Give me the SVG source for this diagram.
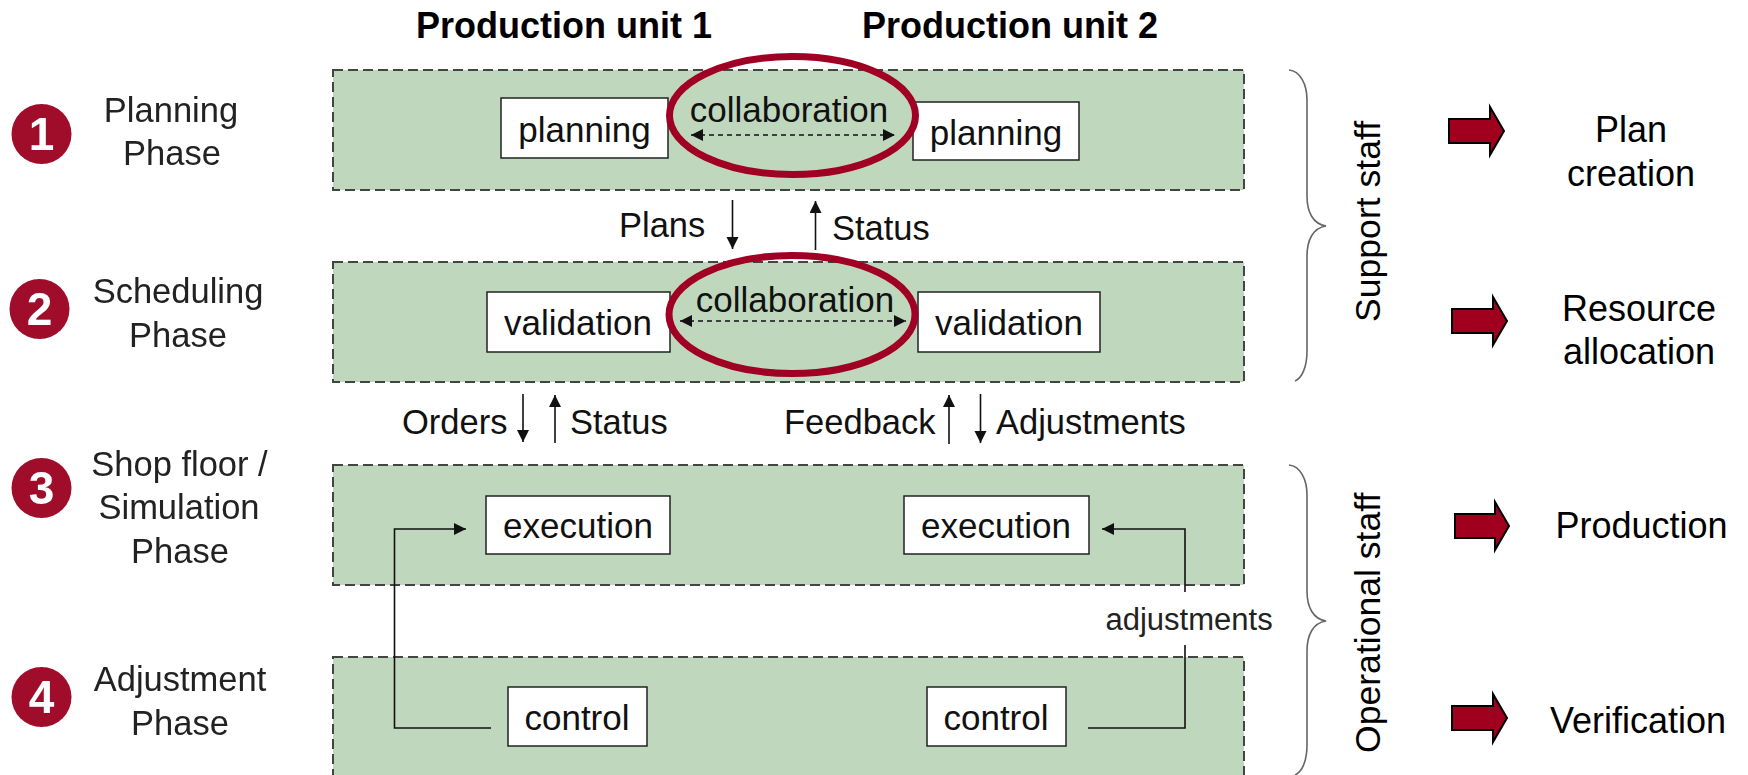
<svg xmlns="http://www.w3.org/2000/svg" width="1748" height="775" viewBox="0 0 1748 775">
<style>
text{font-family:"Liberation Sans",Arial,sans-serif;fill:#111}
.panel{fill:#bfd8bd;stroke:#444;stroke-width:2;stroke-dasharray:10 5}
.box{fill:#fff;stroke:#222;stroke-width:1.5}
.t{font-size:35px;text-anchor:middle}
.s{font-size:34.5px}
.h{font-size:36px;font-weight:bold;fill:#000}
.ph{font-size:34.5px;text-anchor:middle;fill:#222;filter:url(#soft)}
.num{font-size:46px;font-weight:bold;text-anchor:middle;fill:#fff;filter:url(#soft)}
.badge{fill:#a00a2c;filter:url(#soft)}
.oval{fill:none;stroke:#a00024;stroke-width:7}
.ln{fill:none;stroke:#111;stroke-width:1.6}
.end{marker-end:url(#tri)}
.dash{stroke-dasharray:5 4;marker-start:url(#triS);marker-end:url(#tri)}
.brace{fill:none;stroke:#666;stroke-width:1.6}
.big{fill:#a0001e;stroke:#000;stroke-width:2}
.r{font-size:36px;text-anchor:middle;fill:#000}
</style>
<defs>
<filter id="soft" x="-10%" y="-10%" width="120%" height="120%"><feGaussianBlur stdDeviation="0.6"/></filter>
<marker id="tri" markerUnits="userSpaceOnUse" markerWidth="14" markerHeight="14" refX="12" refY="6" orient="auto"><path d="M0 0L12 6L0 12Z" fill="#111"/></marker>
<marker id="triS" markerUnits="userSpaceOnUse" markerWidth="14" markerHeight="14" refX="0" refY="6" orient="auto"><path d="M12 0L0 6L12 12Z" fill="#111"/></marker>
</defs>

<g id="headers">
<text class="h" x="416" y="38">Production unit 1</text>
<text class="h" x="862" y="38">Production unit 2</text>
</g>

<g id="phase-1"><circle class="badge" cx="41.5" cy="134" r="30"/><text class="num" x="41.5" y="150">1</text>
<text class="ph" x="171" y="122">Planning</text><text class="ph" x="172" y="165">Phase</text></g>
<g id="phase-2"><circle class="badge" cx="39.5" cy="309" r="30"/><text class="num" x="39.5" y="325">2</text>
<text class="ph" x="178" y="303">Scheduling</text><text class="ph" x="178" y="347">Phase</text></g>
<g id="phase-3"><circle class="badge" cx="41.5" cy="488" r="30"/><text class="num" x="41.5" y="504">3</text>
<text class="ph" x="179.5" y="476">Shop floor /</text><text class="ph" x="179" y="519">Simulation</text><text class="ph" x="180" y="563">Phase</text></g>
<g id="phase-4"><circle class="badge" cx="41.5" cy="697" r="30"/><text class="num" x="41.5" y="713">4</text>
<text class="ph" x="180" y="691">Adjustment</text><text class="ph" x="180" y="735">Phase</text></g>

<g id="panel-planning"><rect class="panel" x="333" y="70" width="911" height="120"/></g>
<g id="panel-scheduling"><rect class="panel" x="333" y="262" width="911" height="120"/></g>
<g id="panel-execution"><rect class="panel" x="333" y="465" width="911" height="120"/></g>
<g id="panel-adjustment"><rect class="panel" x="333" y="657" width="911" height="140"/></g>

<g id="planning-1"><rect class="box" x="501" y="98" width="167" height="60"/><text class="t" x="584.5" y="142">planning</text></g>
<g id="planning-2"><rect class="box" x="913" y="102" width="166" height="58"/><text class="t" x="996" y="145">planning</text></g>
<g id="validation-1"><rect class="box" x="487" y="292" width="183" height="60"/><text class="t" x="578" y="335">validation</text></g>
<g id="validation-2"><rect class="box" x="918" y="292" width="182" height="60"/><text class="t" x="1009" y="335">validation</text></g>
<g id="execution-1"><rect class="box" x="486" y="496" width="184" height="58"/><text class="t" x="578" y="538">execution</text></g>
<g id="execution-2"><rect class="box" x="904" y="496" width="185" height="58"/><text class="t" x="996" y="538">execution</text></g>
<g id="control-1"><rect class="box" x="508" y="687" width="139" height="59"/><text class="t" x="577" y="730">control</text></g>
<g id="control-2"><rect class="box" x="927" y="687" width="139" height="59"/><text class="t" x="996" y="730">control</text></g>

<g id="collaboration-1"><ellipse class="oval" cx="792.5" cy="115.5" rx="123" ry="59"/><text class="t" x="789" y="122">collaboration</text></g>
<g id="collaboration-2"><ellipse class="oval" cx="792" cy="314.5" rx="123" ry="59"/><text class="t" x="795" y="312">collaboration</text></g>

<g id="connectors">
<path class="ln dash" d="M691 135H895"/>
<path class="ln dash" d="M680 321H906"/>
<path class="ln end" d="M732.5 200V249"/>
<path class="ln end" d="M815.5 250V201"/>
<path class="ln end" d="M523 394V442"/>
<path class="ln end" d="M555 443V395"/>
<path class="ln end" d="M949 444V395"/>
<path class="ln end" d="M980.5 394V443"/>
<path class="ln end" d="M491 728H394.5V529H466"/>
<path class="ln end" d="M1185 592V529H1102"/>
<path class="ln" d="M1088 728H1185V645"/>
</g>

<g id="flow-labels">
<text class="s" x="619" y="237">Plans</text>
<text class="s" x="832" y="240">Status</text>
<text class="s" x="402" y="434">Orders</text>
<text class="s" x="570" y="434">Status</text>
<text class="s" x="784" y="434">Feedback</text>
<text class="s" x="996" y="434">Adjustments</text>
<text x="1105.5" y="630" style="font-size:31px;fill:#222">adjustments</text>
</g>

<g id="support-staff">
<path class="brace" d="M1289 70C1300 71 1307 84 1307 100V196C1307 212 1313 224 1326 226C1313 228 1307 240 1307 256V351C1307 367 1302 378 1295 381"/>
<text x="0" y="0" transform="translate(1380 322) rotate(-90)" style="font-size:35.6px;fill:#000">Support staff</text>
</g>
<g id="operational-staff">
<path class="brace" d="M1289 465C1300 466 1307 479 1307 495V591C1307 607 1313 619 1326 621C1313 623 1307 635 1307 651V745C1307 761 1302 772 1295 775"/>
<text x="0" y="0" transform="translate(1380 753) rotate(-90)" style="font-size:35.6px;fill:#000">Operational staff</text>
</g>

<g id="outcome-plan"><path class="big" d="M1449 119H1490V107L1504 131L1490 155V143H1449Z"/>
<text class="r" x="1631" y="142">Plan</text><text class="r" x="1631" y="186">creation</text></g>
<g id="outcome-resource"><path class="big" d="M1452 309H1493V297L1507 321L1493 345V333H1452Z"/>
<text class="r" x="1639" y="321">Resource</text><text class="r" x="1639" y="364">allocation</text></g>
<g id="outcome-production"><path class="big" d="M1455 514H1495V502L1509 526L1495 550V538H1455Z"/>
<text class="r" x="1641.5" y="538">Production</text></g>
<g id="outcome-verification"><path class="big" d="M1452 706H1493V694L1507 718L1493 742V730H1452Z"/>
<text class="r" x="1638" y="733">Verification</text></g>
</svg>
